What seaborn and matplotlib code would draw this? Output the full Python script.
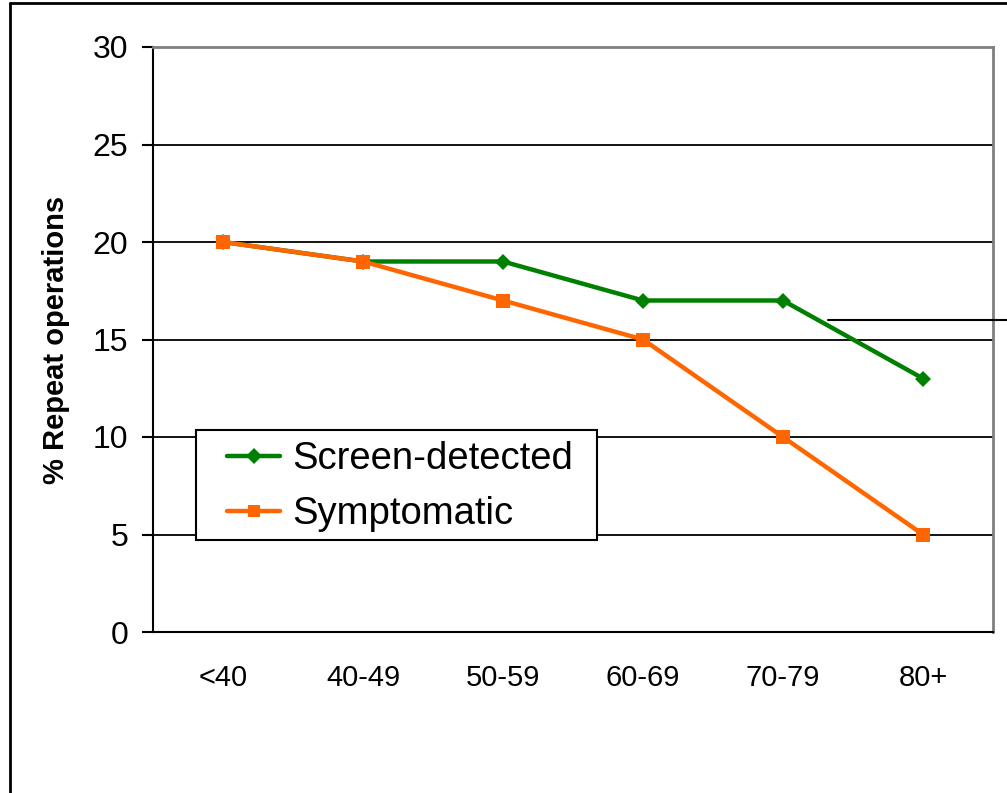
import pandas as pd
import seaborn as sns
import matplotlib.pyplot as plt
from matplotlib.lines import Line2D
from matplotlib.patches import Rectangle

# Data
age_groups = ["<40", "40-49", "50-59", "60-69", "70-79", "80+"]
screen_detected = [20, 19, 19, 17, 17, 13]
symptomatic = [20, 19, 17, 15, 10, 5]

df = pd.DataFrame({
    "age": age_groups * 2,
    "pct": screen_detected + symptomatic,
    "group": ["Screen-detected"] * 6 + ["Symptomatic"] * 6,
})

sns.set_style("white")
plt.rcParams["font.family"] = ["Liberation Sans", "DejaVu Sans"]
plt.rcParams["text.color"] = "black"
plt.rcParams["axes.labelcolor"] = "black"
plt.rcParams["xtick.color"] = "black"
plt.rcParams["ytick.color"] = "black"

fig = plt.figure(figsize=(10.07, 7.93), dpi=100)
ax = fig.add_axes([153 / 1007, 1 - 632 / 793, 840 / 1007, 585 / 793])

# Figure frame (left and top edges visible)
fig.add_artist(Line2D([10 / 1007, 10 / 1007], [0, 1 - 3 / 793], color="black", lw=2))
fig.add_artist(Line2D([10 / 1007, 1], [1 - 3 / 793, 1 - 3 / 793], color="black", lw=2))
# Leader line on the right
fig.add_artist(Line2D([828 / 1007, 1], [1 - 320 / 793, 1 - 320 / 793], color="black", lw=1.5))

for y in [5, 10, 15, 20, 25]:
    ax.axhline(y, color="black", lw=1.3, zorder=0)

sns.lineplot(data=df, x="age", y="pct", hue="group", style="group",
             palette={"Screen-detected": "#008000", "Symptomatic": "#FF6600"},
             markers={"Screen-detected": "D", "Symptomatic": "s"},
             dashes=False, sort=False, lw=3.2, ax=ax,
             markersize=9, markeredgewidth=0)
for line in ax.get_lines():
    if line.get_marker() == "s":
        line.set_markersize(9.5)
    elif line.get_marker() == "D":
        line.set_markersize(8)

ax.set_xlim(-0.5, 5.5)
ax.set_ylim(0, 30)
ax.set_yticks(range(0, 31, 5))
ax.set_xticks(range(6))
ax.set_xticklabels(age_groups)
ax.set_xticks([i - 0.5 for i in range(7)], minor=True)
ax.tick_params(axis="x", which="major", length=0, labelsize=21, pad=23)
ax.tick_params(axis="x", which="minor", length=8, width=1.5, direction="out", color="black")
ax.tick_params(axis="y", length=8, width=1.5, direction="out", color="black",
               labelsize=23, pad=10, left=True)
ax.set_xlabel("")
ax.set_ylabel("% Repeat operations", fontsize=21, fontweight="bold", labelpad=16)

for side in ["left", "bottom"]:
    ax.spines[side].set_color("black")
    ax.spines[side].set_linewidth(1.5)
for side in ["top", "right"]:
    ax.spines[side].set_color("#808080")
    ax.spines[side].set_linewidth(2)

# legend box drawn separately so padding matches the original
ax.add_patch(Rectangle(((196 - 153) / 840, (632 - 540) / 585), 401 / 840, 110 / 585,
                       transform=ax.transAxes, facecolor="white", edgecolor="black",
                       lw=1.5, zorder=4, clip_on=False))
leg = ax.legend(loc="upper left", bbox_to_anchor=((227 - 153) / 840, (632 - 441) / 585),
                borderaxespad=0, borderpad=0, fontsize=27.5, frameon=False,
                handlelength=1.4, handletextpad=0.31, labelspacing=0.5)
leg.set_zorder(5)
for h in leg.legend_handles:
    h.set_linewidth(3.2)
    h.set_markersize(8.5)

fig.savefig("out.png", dpi=100, facecolor="white")
